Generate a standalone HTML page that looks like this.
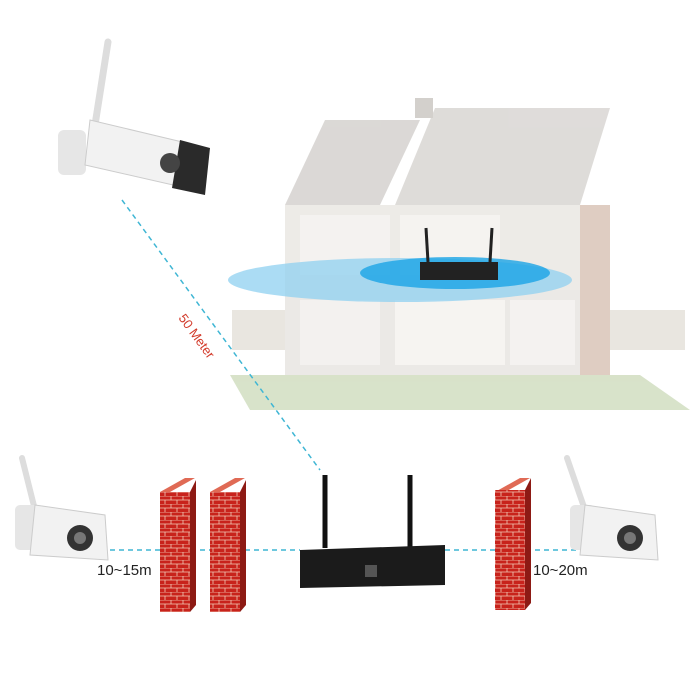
<!DOCTYPE html>
<html><head><style>body{margin:0;background:#fff}svg{display:block}</style></head><body>
<svg width="690" height="690" viewBox="0 0 690 690" xmlns="http://www.w3.org/2000/svg">
<defs>
<pattern id="brick" width="12" height="8" patternUnits="userSpaceOnUse">
<rect width="12" height="8" fill="#c8231c"/>
<path d="M0 0H12M0 4H12M3 0V4M9 4V8" stroke="#f2c9b8" stroke-width="0.8"/>
</pattern>
</defs>
<!-- house -->
<g opacity="0.45">
<polygon points="285,205 325,120 420,120 380,205" fill="#b0aaa5"/>
<polygon points="395,205 435,108 610,108 580,205" fill="#b8b2ad"/>
<rect x="415" y="98" width="18" height="20" fill="#a0988f"/>
<rect x="285" y="205" width="320" height="85" fill="#d8d4cc"/>
<rect x="285" y="290" width="320" height="85" fill="#d4d0c8"/>
<rect x="580" y="205" width="30" height="170" fill="#b9917a"/>
<polygon points="230,375 640,375 690,410 250,410" fill="#a9c08a"/>
<rect x="232" y="310" width="53" height="40" fill="#cfc8bc"/>
<rect x="610" y="310" width="75" height="40" fill="#cfc8bc"/>
<rect x="300" y="215" width="90" height="60" fill="#e7e3de"/>
<rect x="400" y="215" width="100" height="60" fill="#ebe6e0"/>
<rect x="300" y="300" width="80" height="65" fill="#e5e2dc"/>
<rect x="395" y="300" width="110" height="65" fill="#ece8e2"/>
<rect x="510" y="300" width="65" height="65" fill="#e8e4df"/>
</g>
<ellipse cx="400" cy="280" rx="172" ry="22" fill="#8fd0f0" opacity="0.75"/>
<ellipse cx="455" cy="273" rx="95" ry="16" fill="#1aa4e6" opacity="0.8"/>
<rect x="420" y="262" width="78" height="18" fill="#222"/>
<line x1="428" y1="262" x2="426" y2="228" stroke="#222" stroke-width="3"/>
<line x1="490" y1="262" x2="492" y2="228" stroke="#222" stroke-width="3"/>
<!-- dashed lines -->
<line x1="122" y1="200" x2="320" y2="470" stroke="#3fb6d4" stroke-width="1.5" stroke-dasharray="5,4"/>
<line x1="110" y1="550" x2="300" y2="550" stroke="#3fb6d4" stroke-width="1.5" stroke-dasharray="5,4"/>
<line x1="445" y1="550" x2="580" y2="550" stroke="#3fb6d4" stroke-width="1.5" stroke-dasharray="5,4"/>
<text x="0" y="0" transform="translate(178,318) rotate(54)" font-family="Liberation Sans, sans-serif" font-size="13" fill="#d23a2a">50 Meter</text>
<!-- top camera -->
<line x1="95" y1="125" x2="108" y2="42" stroke="#ddd" stroke-width="7" stroke-linecap="round"/>
<rect x="58" y="130" width="28" height="45" rx="6" fill="#e6e6e6"/>
<polygon points="90,120 195,145 195,190 85,165" fill="#f2f2f2" stroke="#ccc"/>
<polygon points="180,140 210,148 205,195 172,188" fill="#2a2a2a"/>
<circle cx="170" cy="163" r="10" fill="#444"/>
<!-- NVR -->
<line x1="325" y1="548" x2="325" y2="475" stroke="#111" stroke-width="5"/>
<line x1="410" y1="548" x2="410" y2="475" stroke="#111" stroke-width="5"/>
<polygon points="300,550 445,545 445,585 300,588" fill="#1b1b1b"/>
<rect x="365" y="565" width="12" height="12" fill="#555"/>
<!-- walls -->
<polygon points="160,492 185,478 195,478 170,492" fill="#e06a55"/>
<rect x="160" y="492" width="30" height="120" fill="url(#brick)"/>
<polygon points="190,492 196,480 196,605 190,612" fill="#8d1a14"/>
<polygon points="210,492 235,478 245,478 220,492" fill="#e06a55"/>
<rect x="210" y="492" width="30" height="120" fill="url(#brick)"/>
<polygon points="240,492 246,480 246,605 240,612" fill="#8d1a14"/>
<polygon points="495,492 520,478 530,478 505,492" fill="#e06a55"/>
<rect x="495" y="490" width="30" height="120" fill="url(#brick)"/>
<polygon points="525,490 531,478 531,603 525,610" fill="#8d1a14"/>
<!-- left camera -->
<line x1="35" y1="510" x2="22" y2="458" stroke="#ddd" stroke-width="6" stroke-linecap="round"/>
<rect x="15" y="505" width="25" height="45" rx="5" fill="#e6e6e6"/>
<polygon points="35,505 105,515 108,560 30,555" fill="#f2f2f2" stroke="#ccc"/>
<circle cx="80" cy="538" r="13" fill="#333"/>
<circle cx="80" cy="538" r="6" fill="#777"/>
<!-- right camera -->
<line x1="585" y1="510" x2="567" y2="458" stroke="#ddd" stroke-width="6" stroke-linecap="round"/>
<rect x="570" y="505" width="25" height="45" rx="5" fill="#e6e6e6"/>
<polygon points="585,505 655,515 658,560 580,555" fill="#f2f2f2" stroke="#ccc"/>
<circle cx="630" cy="538" r="13" fill="#333"/>
<circle cx="630" cy="538" r="6" fill="#777"/>
<text x="97" y="575" font-family="Liberation Sans, sans-serif" font-size="15" fill="#222">10~15m</text>
<text x="533" y="575" font-family="Liberation Sans, sans-serif" font-size="15" fill="#222">10~20m</text>
</svg>
</body></html>
